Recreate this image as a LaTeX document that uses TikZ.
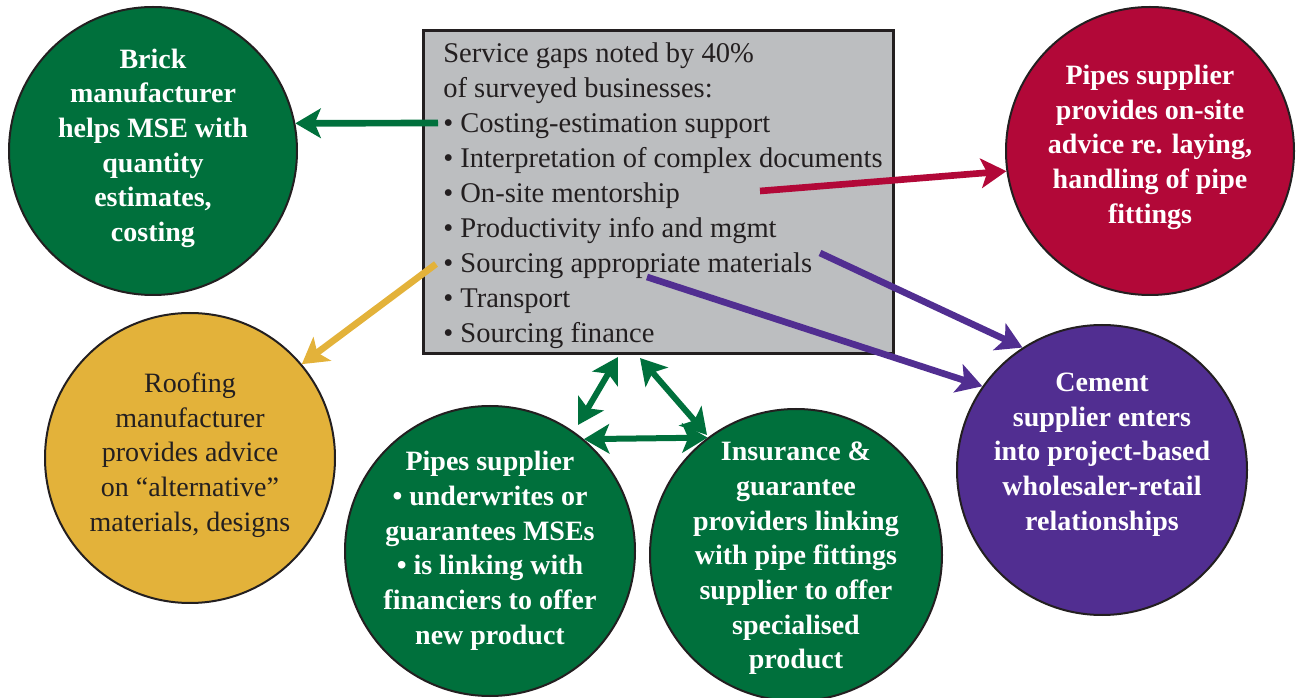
\documentclass[tikz,border=0pt]{standalone}
\usepackage{fontspec}
\setmainfont{Liberation Serif}
\usetikzlibrary{arrows.meta}
\definecolor{msegreen}{RGB}{0,112,60}
\definecolor{msered}{RGB}{178,8,56}
\definecolor{msepurple}{RGB}{81,46,145}
\definecolor{mseyellow}{RGB}{227,178,58}
\definecolor{msegray}{RGB}{188,190,192}
\definecolor{ink}{RGB}{35,31,32}
\begin{document}
\begin{tikzpicture}[x=0.75pt,y=-0.75pt,
  bubble/.style={circle, draw=ink, line width=1.5pt, minimum size=#1, inner sep=0pt},
  btext/.style={align=center, inner sep=0pt, text=white, font=\fontsize{21}{26}\selectfont\bfseries},
  rtext/.style={align=center, inner sep=0pt, text=ink, font=\fontsize{21}{26}\selectfont},
  gapbox/.style={draw=ink, fill=msegray, line width=2.25pt, inner sep=0pt},
  gaptext/.style={align=left, inner sep=0pt, text=ink, font=\fontsize{21.4}{26.25}\selectfont},
  tipS/.tip={Stealth[length=19pt,width=22pt,inset=4.5pt]},
  link/.style={line width=5pt, -tipS},
  dlink/.style={line width=4.5pt, tipS-tipS}
]
\useasboundingbox (0,0) rectangle (1297,698);

% central box
\node[gapbox, minimum width=352.5pt, minimum height=242.25pt] (box) at (658,192.5) {};
\node[gaptext, anchor=north west] (gaps) at (443,37.5)
  {\strut Service gaps noted by 40\%\\
   of surveyed businesses:\\
   • Costing-estimation support\\
   • Interpretation of complex documents\\
   • On-site mentorship\\
   • Productivity info and mgmt\\
   • Sourcing appropriate materials\\
   • Transport\\
   • Sourcing finance\strut};

% circles
\node[bubble=216pt, fill=msegreen] (brick) at (153,151) {};
\node[btext] (bricktxt) at (153,148)
  {\strut Brick\\manufacturer\\helps MSE with\\quantity\\estimates,\\costing\strut};

\node[bubble=216pt, fill=msered] (pipesred) at (1150,151) {};
\node[btext] (pipesredtxt) at (1150,147)
  {\strut Pipes supplier\\provides on-site\\advice re. laying,\\handling of pipe\\fittings\strut};

\node[bubble=217.5pt, fill=msepurple] (cement) at (1102,470) {};
\node[btext] (cementtxt) at (1102,454)
  {\strut Cement\\supplier enters\\into project-based\\wholesaler-retail\\relationships\strut};

\node[bubble=217.5pt, fill=mseyellow] (roof) at (190,458) {};
\node[rtext] (rooftxt) at (190,455)
  {\strut Roofing\\manufacturer\\provides advice\\on “alternative”\\materials, designs\strut};

\node[bubble=217.5pt, fill=msegreen] (gleft) at (490,551) {};
\node[btext] (glefttxt) at (490,550.5)
  {\strut Pipes supplier\\• underwrites or\\guarantees MSEs\\• is linking with\\financiers to offer\\new product\strut};

\node[bubble=219pt, fill=msegreen] (gright) at (796,555) {};
\node[btext] (grighttxt) at (796,558)
  {\strut Insurance \&\\guarantee\\providers linking\\with pipe fittings\\supplier to offer\\specialised\\product\strut};

% arrow start points inside the box
\coordinate (sCost) at (438,123);
\coordinate (sSite) at (760,191);
\coordinate (sProd) at (820,253);
\coordinate (sMat) at (647,277);
\coordinate (sSrc) at (436,264);
% triangle end points
\coordinate (tA) at (618,357);
\coordinate (tB) at (578,425);
\coordinate (tC) at (640,358);
\coordinate (tD) at (707,435);

% connectors
\draw[link, draw=msegreen, fill=msegreen] (sCost) -- (brick.11);
\draw[link, draw=msered, fill=msered] (sSite) -- (pipesred.188);
\draw[link, draw=msepurple, fill=msepurple] (sProd) -- (cement.123);
\draw[link, draw=msepurple, fill=msepurple] (sMat) -- (cement.145);
\draw[link, draw=mseyellow, fill=mseyellow] (sSrc) -- (roof.40);

\draw[dlink, draw=msegreen, fill=msegreen] (tA) -- (tB);
\draw[dlink, draw=msegreen, fill=msegreen] (tC) -- (tD);
\draw[dlink, draw=msegreen, fill=msegreen] (gleft.50) -- (gright.127.5);
\end{tikzpicture}
\end{document}
